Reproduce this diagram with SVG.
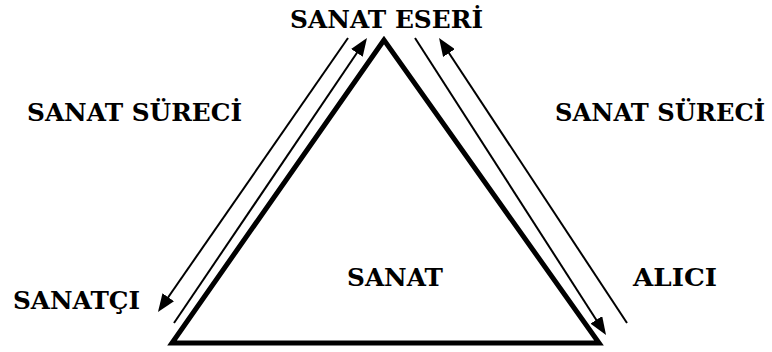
<svg xmlns="http://www.w3.org/2000/svg" width="772" height="352" viewBox="0 0 772 352">
<style>
.c{stroke:#000;stroke-width:2;fill:none}
.t{font-family:"DejaVu Serif",serif;font-weight:bold;font-size:25px;fill:#000}
</style>
<defs>
<marker id="ah" markerUnits="userSpaceOnUse" viewBox="0 0 18 14" markerWidth="18" markerHeight="14" refX="15" refY="7" orient="auto">
<path d="M0,0 L18,7 L0,14 z" fill="#000"/>
</marker>
</defs>
<rect width="772" height="352" fill="#fff"/>
<g id="triangle">
<polygon points="384,40 172,343 599,343" fill="none" stroke="#000" stroke-width="5" stroke-linejoin="miter" stroke-miterlimit="10"/>
<text class="t" x="347" y="286" textLength="96" lengthAdjust="spacingAndGlyphs">SANAT</text>
</g>
<g id="eser"><text class="t" x="290" y="28" textLength="193" lengthAdjust="spacingAndGlyphs">SANAT ESERİ</text></g>
<g id="surec-left"><text class="t" x="27" y="121" textLength="215" lengthAdjust="spacingAndGlyphs">SANAT SÜRECİ</text></g>
<g id="surec-right"><text class="t" x="555" y="121" textLength="210" lengthAdjust="spacingAndGlyphs">SANAT SÜRECİ</text></g>
<g id="sanatci"><text class="t" x="13" y="309" textLength="127" lengthAdjust="spacingAndGlyphs">SANATÇI</text></g>
<g id="alici"><text class="t" x="633" y="286" textLength="84" lengthAdjust="spacingAndGlyphs">ALICI</text></g>
<g id="connectors">
<line class="c" x1="348" y1="38" x2="159.7" y2="309.5" marker-end="url(#ah)"/>
<line class="c" x1="174" y1="323" x2="365.3" y2="40.5" marker-end="url(#ah)"/>
<line class="c" x1="415" y1="38" x2="604.4" y2="332.5" marker-end="url(#ah)"/>
<line class="c" x1="627" y1="323" x2="440.7" y2="40.5" marker-end="url(#ah)"/>
</g>
</svg>
